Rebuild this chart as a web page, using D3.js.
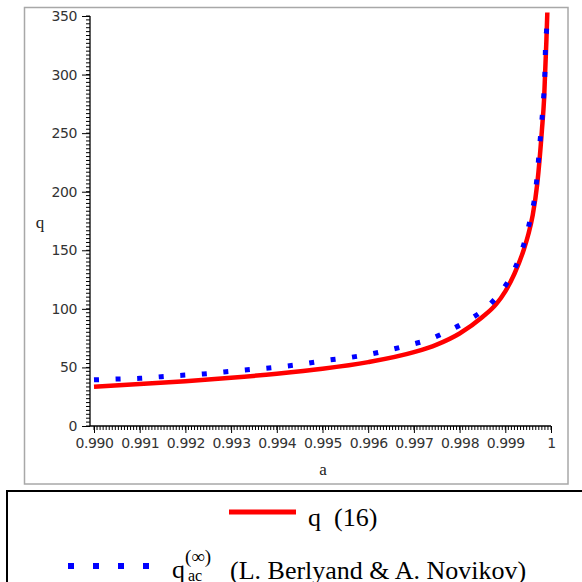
<!DOCTYPE html>
<html>
<head>
<meta charset="utf-8">
<script src="https://cdn.jsdelivr.net/npm/d3@7"></script>
<style>
  body { margin: 0; background: #fff; }
  svg { display: block; }
</style>
</head>
<body>
<svg id="chart" width="582" height="582"></svg>
<script>
// values
var aRed = [0.9900, 0.9910, 0.9920, 0.9930, 0.9940, 0.9950, 0.9960, 0.9970, 0.9975, 0.9980,
            0.9985, 0.9988, 0.9990, 0.9992, 0.9994, 0.9995, 0.9996, 0.9997, 0.9998, 0.99985,
            0.9999, 0.99993];
var qRed = [33.5, 35.8, 38.3, 41.2, 44.6, 48.8, 54.5, 63, 69.5, 79,
            93, 104, 115, 130, 150, 163, 180, 207, 252, 280,
            330, 365];

var aBlue = [0.9900, 0.99053, 0.99101, 0.99147, 0.99193, 0.99239, 0.99284, 0.99330, 0.99376, 0.99422,
             0.99467, 0.99513, 0.99556, 0.99602, 0.99646, 0.99690, 0.99734, 0.99775, 0.99816, 0.99854,
             0.99886, 0.99912, 0.99931, 0.99945, 0.99956, 0.99965, 0.99970, 0.99974, 0.99978, 0.99982,
             0.99985, 0.99987, 0.99988, 0.99991, 0.99992];
var qBlue = [39.4, 40.1, 40.7, 42.1, 43.3, 44.4, 46.1, 47.8, 49.3, 51.2,
             53.5, 56.3, 58.3, 61.2, 64.9, 69.1, 74.0, 81.1, 89.6, 99.6,
             112.4, 127.5, 144, 161, 179, 197, 215, 233.6, 251.8, 270.4,
             288.3, 306.7, 325.2, 343.8, 362];

var xTicks = [0.990, 0.991, 0.992, 0.993, 0.994, 0.995, 0.996, 0.997, 0.998, 0.999, 1];
var yTicks = [0, 50, 100, 150, 200, 250, 300, 350];

var svg = d3.select('#chart');

// grey frame round the plot
svg.append('rect')
  .attr('x', 24.5).attr('y', 7.5)
  .attr('width', 543.5).attr('height', 476.5)
  .attr('fill', 'none')
  .attr('stroke', '#a8a8a8')
  .attr('stroke-width', 1.5);

var x = d3.scaleLinear().domain([0.990, 1.0]).range([94, 551]);
var y = d3.scaleLinear().domain([0, 350]).range([426, 16]);

// minor ticks, 15 per major step
var xMinor = d3.range(0, 151).map(function(i) { return 0.990 + i * 0.001 / 15; });
var yMinor = d3.range(0, 106).map(function(i) { return i * 50 / 15; });

var xAxis = d3.axisBottom(x).tickValues(xTicks).tickSize(7).tickPadding(5)
  .tickFormat(function(d) { return d === 1 ? '1' : d3.format('.3f')(d); });
var yAxis = d3.axisLeft(y).tickValues(yTicks).tickSize(8).tickPadding(5);

var gx = svg.append('g').attr('transform', 'translate(0,426)');
gx.selectAll('line.minor').data(xMinor).enter().append('line')
  .attr('x1', function(d) { return x(d); }).attr('x2', function(d) { return x(d); })
  .attr('y1', 0).attr('y2', 4)
  .attr('stroke', '#000').attr('stroke-width', 1);
gx.call(xAxis);
gx.select('.domain').attr('d', 'M90,0H551');

var gy = svg.append('g').attr('transform', 'translate(90,0)');
gy.selectAll('line.minor').data(yMinor).enter().append('line')
  .attr('y1', function(d) { return y(d); }).attr('y2', function(d) { return y(d); })
  .attr('x1', 0).attr('x2', -4)
  .attr('stroke', '#000').attr('stroke-width', 1);
gy.call(yAxis);
gy.select('.domain').attr('d', 'M0,16V426');

svg.selectAll('.tick text')
  .attr('font-family', 'DejaVu Sans')
  .attr('font-size', 14)
  .attr('letter-spacing', '-0.4px')
  .attr('fill', '#333');
svg.selectAll('.domain').attr('stroke', '#000').attr('stroke-width', 1.3);

// axis titles
svg.append('text').attr('x', 323).attr('y', 475)
  .attr('text-anchor', 'middle')
  .attr('font-family', 'Liberation Serif').attr('font-size', 17)
  .attr('fill', '#222').text('a');
svg.append('text').attr('x', 40).attr('y', 228)
  .attr('text-anchor', 'middle')
  .attr('font-family', 'Liberation Serif').attr('font-size', 17)
  .attr('fill', '#222').text('q');

// curves
svg.append('clipPath').attr('id', 'plotclip')
  .append('rect').attr('x', 90).attr('y', 12.5).attr('width', 470).attr('height', 414);

var line = d3.line().curve(d3.curveMonotoneX)
  .x(function(d) { return x(d[0]); })
  .y(function(d) { return y(d[1]); });

var plot = svg.append('g').attr('clip-path', 'url(#plotclip)');

plot.append('path')
  .datum(d3.zip(aRed, qRed))
  .attr('d', line)
  .attr('fill', 'none')
  .attr('stroke', '#ff0000')
  .attr('stroke-width', 4.5);

plot.append('path')
  .datum(d3.zip(aBlue, qBlue))
  .attr('d', line)
  .attr('fill', 'none')
  .attr('stroke', '#0000ff')
  .attr('stroke-width', 5)
  .attr('stroke-dasharray', '5 16.6');

// legend box
svg.append('rect')
  .attr('x', 7).attr('y', 491)
  .attr('width', 600).attr('height', 120)
  .attr('fill', 'none')
  .attr('stroke', '#000')
  .attr('stroke-width', 2);

svg.append('line')
  .attr('x1', 229).attr('x2', 296).attr('y1', 512).attr('y2', 512)
  .attr('stroke', '#ff0000').attr('stroke-width', 5);
svg.append('text').attr('x', 308).attr('y', 526)
  .attr('font-family', 'Liberation Serif').attr('font-size', 26)
  .attr('fill', '#000').style('white-space', 'pre')
  .text('q  (16)');

svg.append('line')
  .attr('x1', 68).attr('x2', 150).attr('y1', 566).attr('y2', 566)
  .attr('stroke', '#0000ff').attr('stroke-width', 6)
  .attr('stroke-dasharray', '6 19');
var serif = 'Liberation Serif';
svg.append('text').attr('x', 172).attr('y', 578)
  .attr('font-family', serif).attr('font-size', 26).text('q');
svg.append('text').attr('x', 185).attr('y', 563)
  .attr('font-family', serif).attr('font-size', 19).text('(\u221e)');
svg.append('text').attr('x', 188).attr('y', 581)
  .attr('font-family', serif).attr('font-size', 16).text('ac');
svg.append('text').attr('x', 230).attr('y', 579)
  .attr('font-family', serif).attr('font-size', 26)
  .text('(L. Berlyand & A. Novikov)');
</script>
</body>
</html>
